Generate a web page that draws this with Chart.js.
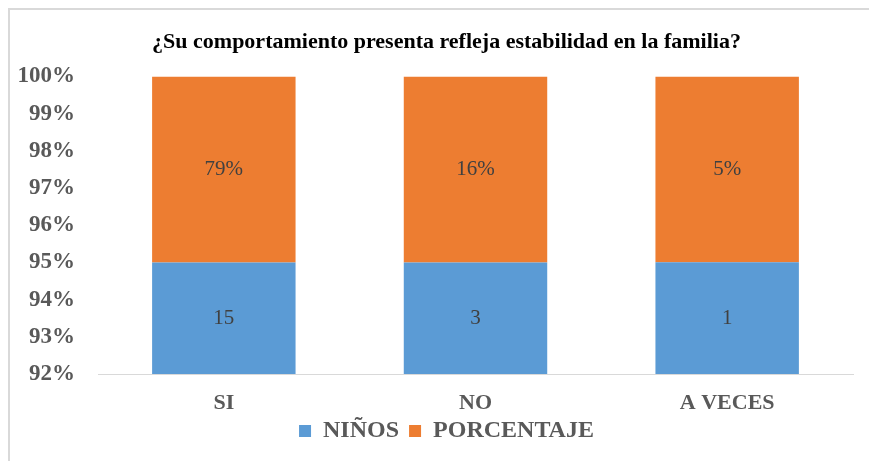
<!DOCTYPE html>
<html lang="es">
<head>
<meta charset="utf-8">
<script src="https://cdn.jsdelivr.net/npm/chart.js@4/dist/chart.umd.min.js"></script>
<style>
  html, body { margin: 0; padding: 0; background: #fff; }
  #marco {
    position: absolute; left: 8px; top: 8px; width: 861px; height: 453px;
    border-top: 2px solid #d9d9d9; border-left: 2px solid #d9d9d9;
  }
  #grafico { display: block; }
</style>
</head>
<body>
<div id="marco">
  <canvas id="grafico" width="859" height="451"></canvas>
</div>
<script>
  // Datos
  const categorias = ["SI", "NO", "A VECES"];
  const ninos = [15, 3, 1];
  const porcentaje = [0.7895, 0.1579, 0.0526];
  const ticksY = [92, 93, 94, 95, 96, 97, 98, 99, 100];

  // Excel apila al 100%: cada serie como parte del total de la categoria
  const total = ninos.map((n, i) => n + porcentaje[i]);
  const ninosPct = ninos.map((n, i) => (n / total[i]) * 100);
  const porcentajePct = porcentaje.map((p, i) => (p / total[i]) * 100);

  const serif = "'Liberation Serif', 'Times New Roman', serif";

  // Etiquetas de datos dentro de cada barra
  const etiquetas = {
    id: "etiquetas",
    afterDatasetsDraw(chart) {
      const ctx = chart.ctx;
      const area = chart.chartArea;
      ctx.save();
      ctx.font = "21px " + serif;
      ctx.fillStyle = "#404040";
      ctx.textAlign = "center";
      ctx.textBaseline = "middle";
      chart.data.datasets.forEach((ds, di) => {
        chart.getDatasetMeta(di).data.forEach((bar, i) => {
          const top = Math.max(bar.y, area.top);
          const bottom = Math.min(bar.base, area.bottom);
          const txt = di === 0 ? String(ninos[i]) : Math.round(porcentaje[i] * 100) + "%";
          ctx.fillText(txt, bar.x, (top + bottom) / 2);
        });
      });
      ctx.restore();
    },
  };

  // Excel centra titulo y leyenda un poco mas a la derecha
  const ajuste = {
    id: "ajuste",
    afterLayout(chart) {
      chart.titleBlock.left += 15;
      chart.titleBlock.right += 15;
      chart.legend.left += 15;
      chart.legend.right += 15;
      chart.legend.top -= 8;
      chart.legend.bottom -= 8;
    },
  };

  const ctx = document.getElementById("grafico").getContext("2d");
  new Chart(ctx, {
    type: "bar",
    data: {
      labels: categorias,
      datasets: [
        {
          label: "NIÑOS",
          data: ninosPct,
          backgroundColor: "#5B9BD5",
          barPercentage: 0.57,
          categoryPercentage: 1,
        },
        {
          label: "PORCENTAJE",
          data: porcentajePct,
          backgroundColor: "#ED7D31",
          barPercentage: 0.57,
          categoryPercentage: 1,
        },
      ],
    },
    options: {
      responsive: false,
      animation: false,
      layout: { padding: { left: 0, right: 16, top: 0, bottom: 0 } },
      plugins: {
        tooltip: { enabled: false },
        title: {
          display: true,
          text: "¿Su comportamiento presenta refleja estabilidad en la familia?",
          color: "#000",
          font: { family: serif, size: 22, weight: "bold" },
          padding: { top: 19, bottom: 21 },
        },
        legend: {
          position: "bottom",
          labels: {
            color: "#595959",
            font: { family: serif, size: 24, weight: "bold" },
            boxWidth: 12,
            boxHeight: 12,
            padding: 10,
          },
        },
      },
      scales: {
        x: {
          stacked: true,
          afterFit(scale) { scale.height = 43; },
          grid: { display: false, drawTicks: false },
          border: { display: true, color: "#d9d9d9", width: 1 },
          ticks: {
            color: "#595959",
            font: { family: serif, size: 22, weight: "bold" },
            padding: 16,
          },
        },
        y: {
          stacked: true,
          min: 92,
          max: 100,
          afterFit(scale) { scale.width = 88; },
          afterBuildTicks(scale) { scale.ticks = ticksY.map(v => ({ value: v })); },
          grid: { display: false, drawTicks: false },
          border: { display: false },
          ticks: {
            color: "#595959",
            font: { family: serif, size: 23, weight: "bold" },
            padding: 23,
            callback: v => v + "%",
          },
        },
      },
    },
    plugins: [etiquetas, ajuste],
  });
</script>
</body>
</html>
